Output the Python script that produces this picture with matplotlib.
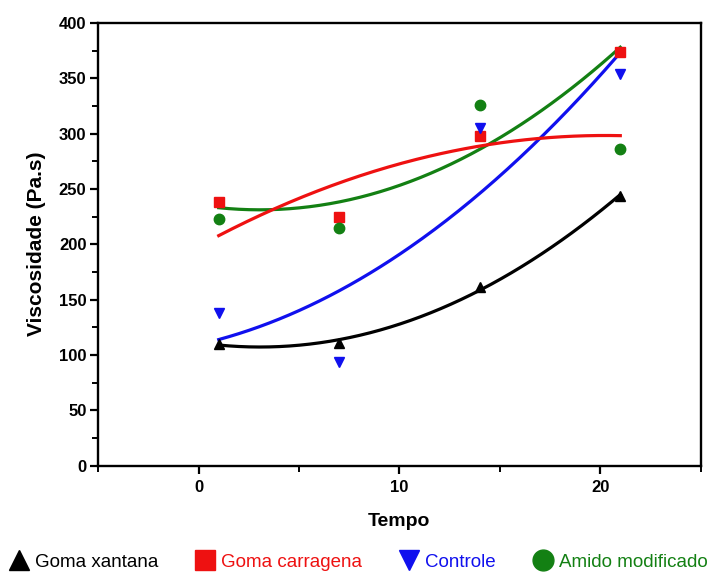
import numpy as np
import matplotlib
matplotlib.use('Agg')
import matplotlib.pyplot as plt
from matplotlib.ticker import MultipleLocator
from matplotlib.lines import Line2D

plt.rcParams['font.family'] = ['Liberation Sans', 'DejaVu Sans']

# Storage time (days) and viscosity readings (Pa.s)
tempo = [1, 7, 14, 21]
goma_xantana = [110, 111, 161, 244]
goma_carragena = [238, 225, 298, 374]
controle = [138, 94, 305, 354]
amido_modificado = [223, 215, 326, 286]

labels = ['Goma xantana', 'Goma carragena', 'Controle', 'Amido modificado']
valores = [goma_xantana, goma_carragena, controle, amido_modificado]
cores = ['black', '#ee1111', '#1010ee', '#138013']
marcadores = ['^', 's', 'v', 'o']
# colour used for the quadratic trend of each series
cores_ajuste = ['black', '#138013', '#1010ee', '#ee1111']

fig = plt.figure(figsize=(7.12, 5.72), dpi=100)
ax = fig.add_axes([0.138, 0.186, 0.846, 0.774])

x = np.array(tempo, dtype=float)
xs = np.linspace(x.min(), x.max(), 200)
for y, c, m, cf in zip(valores, cores, marcadores, cores_ajuste):
    coef = np.polyfit(x, y, 2)
    ax.plot(xs, np.polyval(coef, xs), color=cf, linewidth=2.3, zorder=2)
    ax.plot(x, y, linestyle='none', marker=m, color=c, markersize=7.5, zorder=3)

ax.set_xlim(-5, 25)
ax.set_ylim(0, 400)
ax.xaxis.set_major_locator(MultipleLocator(10))
ax.xaxis.set_minor_locator(MultipleLocator(5))
ax.yaxis.set_major_locator(MultipleLocator(50))
ax.yaxis.set_minor_locator(MultipleLocator(25))
ax.tick_params(which='major', direction='out', length=5.5, width=1.6,
               labelsize=12, pad=3)
ax.tick_params(axis='x', which='major', pad=5)
ax.tick_params(which='minor', direction='out', length=4, width=1.4)
for lab in ax.get_xticklabels() + ax.get_yticklabels():
    lab.set_fontweight('bold')
for s in ax.spines.values():
    s.set_linewidth(1.7)

ax.set_xlabel('Tempo', fontsize=14, fontweight='bold', labelpad=13)
ax.set_ylabel('Viscosidade (Pa.s)', fontsize=15, fontweight='bold', labelpad=9)

handles = [Line2D([], [], linestyle='none', marker=m, color=c, markersize=15)
           for m, c in zip(marcadores, cores)]
leg = fig.legend(handles, labels, loc='center', bbox_to_anchor=(0.503, 0.017),
                 ncol=4, frameon=False, fontsize=13.5, handletextpad=0.3,
                 columnspacing=1.95, handlelength=1.1, borderpad=0)
for txt, c in zip(leg.get_texts(), cores):
    txt.set_color(c)

fig.savefig('out.png', dpi=100)
